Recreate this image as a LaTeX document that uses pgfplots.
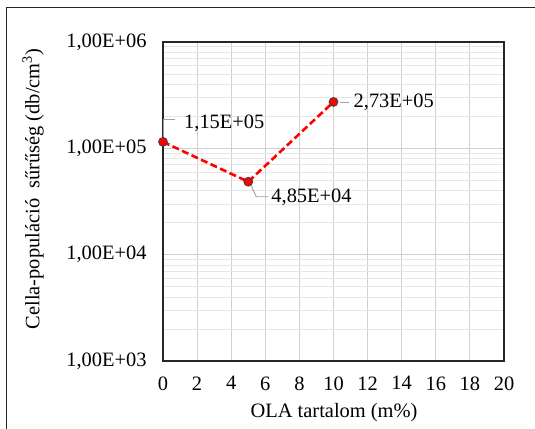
\documentclass[border=0pt]{standalone}
\usepackage{fontspec}
\setmainfont{Liberation Serif}
\usepackage{pgfplots}
\pgfplotsset{compat=1.18}
\definecolor{gridmaj}{HTML}{D0D0D0}
\definecolor{gridmin}{HTML}{E6E6E6}
\definecolor{leader}{HTML}{A0A0A0}
\definecolor{ptred}{HTML}{FF0000}
\newcommand{\myfs}{\rmfamily\fontsize{20.5}{24}\selectfont}
\begin{document}
\begin{tikzpicture}
\path[use as bounding box] (0,0) rectangle (535bp,429bp);
\draw[line width=1bp,black!85] (6bp,0) -- (6bp,421bp) -- (535bp,421bp);
\begin{axis}[
  at={(163bp,68bp)}, anchor=south west,
  width=341bp, height=319bp, scale only axis,
  ymode=log, log basis y=10,
  xmin=0, xmax=20, ymin=1e3, ymax=1e6,
  xtick={0,2,...,20},
  ytick={1e3,1e4,1e5,1e6},
  minor ytick={2e3,3e3,4e3,5e3,6e3,7e3,8e3,9e3,2e4,3e4,4e4,5e4,6e4,7e4,8e4,9e4,2e5,3e5,4e5,5e5,6e5,7e5,8e5,9e5},
  yticklabels={{1,00E+03},{1,00E+04},{1,00E+05},{1,00E+06}},
  tick style={draw=none},
  xmajorgrids, ymajorgrids, yminorgrids,
  major grid style={draw=gridmaj, line width=0.9bp},
  minor grid style={draw=gridmin, line width=0.8bp},
  axis line style={black!85, line width=1.1bp},
  tick label style={font=\myfs},
  /pgf/number format/assume math mode=true,
  yticklabel style={xshift=-13bp},
  xticklabel style={yshift=-12bp},
  clip=false,
]
\addplot[ptred, line width=2.6bp, dash pattern=on 7bp off 3.5bp,
  mark=*, mark size=4.4bp,
  mark options={solid, fill=ptred, draw=black!75, line width=0.9bp}]
  coordinates {(0,115000) (5,48500) (10,273000)};
\draw[leader, line width=0.9bp] ([yshift=5bp]axis cs:0,115000) -- ([yshift=22bp]axis cs:0,115000) -- ([xshift=12bp,yshift=22bp]axis cs:0,115000);
\node[anchor=west, font=\myfs, inner sep=0pt] at ([xshift=21bp,yshift=19bp]axis cs:0,115000) {1,15E+05};
\draw[leader, line width=0.9bp] ([xshift=3bp,yshift=-4bp]axis cs:5,48500) -- ([xshift=8bp,yshift=-15bp]axis cs:5,48500) -- ([xshift=20bp,yshift=-15bp]axis cs:5,48500);
\node[anchor=west, font=\myfs, inner sep=0pt] at ([xshift=23bp,yshift=-16bp]axis cs:5,48500) {4,85E+04};
\draw[leader, line width=0.9bp] ([xshift=6bp]axis cs:10,273000) -- ([xshift=15bp]axis cs:10,273000);
\node[anchor=west, font=\myfs, inner sep=0pt] at ([xshift=20bp]axis cs:10,273000) {2,73E+05};
\end{axis}
\node[rotate=90, font=\myfs] at (33bp,240bp) {Cella-populáció\ \ sűrűség (db/cm\textsuperscript{3})};
\node[font=\myfs] at (334bp,16bp) {OLA tartalom (m\%)};
\end{tikzpicture}
\end{document}
